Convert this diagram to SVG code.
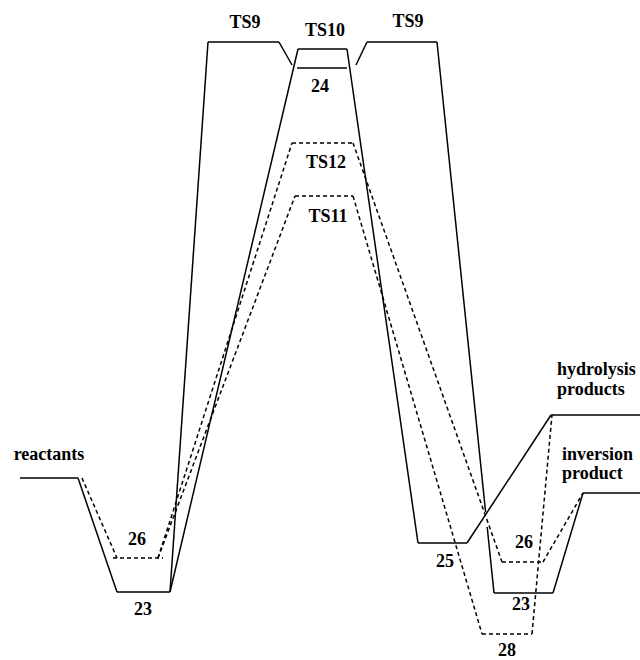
<svg xmlns="http://www.w3.org/2000/svg" width="640" height="660" viewBox="0 0 640 660">
<style>
.s{stroke:#000;stroke-width:1.5;fill:none}
.d{stroke:#000;stroke-width:1.5;fill:none;stroke-dasharray:4 3}
text{font-family:"Liberation Serif","Times New Roman",serif;font-weight:bold;font-size:18px;fill:#000}
.c{text-anchor:middle}
</style>
<rect width="640" height="660" fill="#fff"/>
<g id="connectors">
<line class="s" x1="78" y1="478" x2="117" y2="592"/>
<line class="s" x1="170" y1="592" x2="208" y2="42"/>
<line class="s" x1="279" y1="42" x2="292" y2="65"/>
<line class="s" x1="170" y1="592" x2="298" y2="49"/>
<line class="s" x1="347" y1="49" x2="418" y2="543"/>
<line class="s" x1="356" y1="65" x2="367" y2="42"/>
<line class="s" x1="437" y1="42" x2="485.6" y2="512"/>
<line class="s" x1="487.2" y1="527" x2="494" y2="593"/>
<line class="s" x1="467" y1="543" x2="551" y2="415"/>
<line class="s" x1="553" y1="593" x2="583" y2="493"/>
<line class="d" x1="82" y1="478" x2="117" y2="558"/>
<line class="d" x1="158" y1="558" x2="292" y2="143"/>
<line class="d" x1="158" y1="558" x2="295" y2="196"/>
<line class="d" x1="353" y1="143" x2="502" y2="562"/>
<line class="d" x1="353" y1="196" x2="482" y2="634"/>
<line class="d" x1="543" y1="562" x2="583" y2="493"/>
<line class="d" x1="532" y1="634" x2="552" y2="415"/>
</g>
<g id="reactants"><line class="s" x1="20" y1="478" x2="78" y2="478"/><text class="c" x="49" y="460">reactants</text></g>
<g id="n23a"><line class="s" x1="117" y1="592" x2="170" y2="592"/><text class="c" x="143" y="615">23</text></g>
<g id="n26a"><line class="d" x1="113" y1="558" x2="163" y2="558"/><text class="c" x="137" y="545">26</text></g>
<g id="ts9a"><line class="s" x1="208" y1="42" x2="279" y2="42"/><text class="c" x="245" y="28">TS9</text></g>
<g id="ts10"><line class="s" x1="298" y1="49" x2="347" y2="49"/><text class="c" x="325" y="36">TS10</text></g>
<g id="n24"><line class="s" x1="297" y1="68" x2="347" y2="68"/><text class="c" x="320" y="92">24</text></g>
<g id="ts9b"><line class="s" x1="367" y1="42" x2="437" y2="42"/><text class="c" x="408" y="27">TS9</text></g>
<g id="ts12"><line class="d" x1="292" y1="143" x2="353" y2="143"/><text class="c" x="326" y="168">TS12</text></g>
<g id="ts11"><line class="d" x1="295" y1="196" x2="353" y2="196"/><text class="c" x="328" y="222">TS11</text></g>
<g id="n25"><line class="s" x1="418" y1="543" x2="467" y2="543"/><text class="c" x="445" y="567">25</text></g>
<g id="n26b"><line class="d" x1="502" y1="562" x2="543" y2="562"/><text class="c" x="524" y="548">26</text></g>
<g id="n23b"><line class="s" x1="494" y1="593" x2="553" y2="593"/><text class="c" x="521" y="610">23</text></g>
<g id="n28"><line class="d" x1="482" y1="634" x2="532" y2="634"/><text class="c" x="507" y="656">28</text></g>
<g id="hydrolysis"><line class="s" x1="551" y1="415" x2="640" y2="415"/><text x="557" y="375">hydrolysis</text><text x="557" y="395">products</text></g>
<g id="inversion"><line class="s" x1="583" y1="493" x2="640" y2="493"/><text x="562" y="460">inversion</text><text x="562" y="479">product</text></g>
</svg>
